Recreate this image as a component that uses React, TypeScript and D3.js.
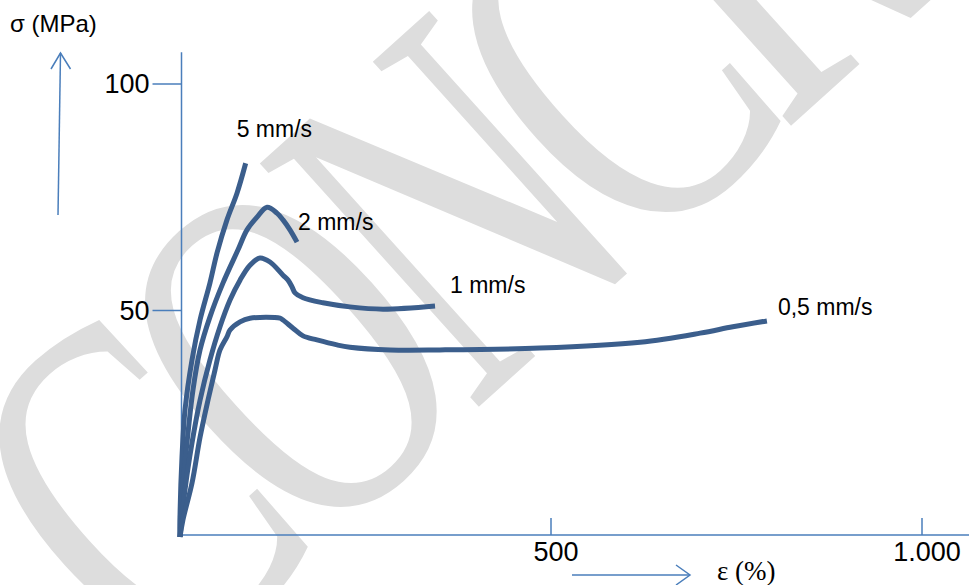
import React from 'react';
import * as d3 from 'd3';

const W = 969;
const H = 585;

// Series (strain ε in %, stress σ in MPa)
const seriesNames = ['5 mm/s', '2 mm/s', '1 mm/s', '0,5 mm/s'];

const strain5 = [0, 0, 2.7, 6.7, 16.2, 27, 40.4, 49.9, 63.3, 76.8, 88.5];
const stress5 = [0, 4.4, 17.7, 28, 39.1, 47.9, 56.1, 62.7, 70, 75.9, 82.5];

const strain2 = [0, 1.5, 4, 10.8, 17.5, 27, 40.4, 58, 78.2, 90.3, 103.8, 117.3, 130.7, 138.8, 148.2, 157.7];
const stress2 = [0, 8, 11.9, 23, 32.5, 41.3, 48.6, 56.1, 63.4, 67.8, 70.6, 72.8, 71.5, 70, 67.8, 65.1];

const strain1 = [0, 6.7, 16.2, 27, 40.4, 53.9, 67.4, 80.9, 94.3, 107.8, 121.3, 138.8, 145.6, 151, 155, 165.8, 192.7, 229, 273.6, 343.7];
const stress1 = [0, 10.4, 20.8, 30.2, 39.1, 46.4, 52.3, 56.7, 60.0, 61.6, 60.7, 57.8, 56.7, 55.2, 53.9, 52.8, 51.7, 50.8, 50.3, 51.0];

const strain05 = [0, 4, 16.2, 27, 37.7, 47.2, 53.9, 63.3, 67.4, 80.9, 94.3, 134.8, 138.8, 152.3, 165.8, 184.6, 211.6, 229, 283, 350, 485, 620, 701, 745, 791];
const stress05 = [0, 3.8, 11.9, 22, 30.2, 36.9, 41.3, 44.2, 45.7, 47.5, 48.3, 48.3, 47.9, 46.1, 44.4, 43.5, 42.4, 41.9, 41.3, 41.3, 41.7, 43.0, 45.0, 46.4, 47.7];

const strains = [strain5, strain2, strain1, strain05];
const stresses = [stress5, stress2, stress1, stress05];

const xTicks = [500, 1000];
const xTickLabels = ['500', '1.000'];
const yTicks = [50, 100];
const yTickLabels = ['50', '100'];

const yAxisTitle = 'σ (MPa)';
const xAxisTitle = 'ε (%)';
const watermark = 'CONCRETE';

// label offsets relative to curve end (px)
const labelOffsets: [number, number][] = [[-9, -26], [1, -12], [15, -13], [11, -6]];

const AXIS = '#4a7ebb';
const CURVE = '#3b5e8c';
const SANS = '"Liberation Sans", Arial, sans-serif';
const SERIF = '"Liberation Serif", "Times New Roman", serif';

export default function App() {
  const x = d3.scaleLinear().domain([0, 1000]).range([180, 922]);
  const y = d3.scaleLinear().domain([0, 100]).range([537, 84]);

  const line = d3
    .line<[number, number]>()
    .x((d) => x(d[0]))
    .y((d) => y(d[1]))
    .curve(d3.curveCatmullRom.alpha(0.5));

  const axX = x(0) + 1.5;
  const axY = y(0) - 2;

  const series = seriesNames.map((name, i) => {
    const pts: [number, number][] = strains[i].map((e, j) => [e, stresses[i][j]]);
    return { name, pts };
  });

  return (
    <svg
      width={W}
      height={H}
      style={{ position: 'fixed', left: 0, top: 0, background: '#fff' }}
    >
      <defs>
        <clipPath id="clipAll">
          <rect x={0} y={0} width={W} height={H} />
        </clipPath>
      </defs>
      <rect x={0} y={0} width={W} height={H} fill="#fff" />
      {/* watermark */}
      <g clipPath="url(#clipAll)">
        <text
          transform="translate(161,693) rotate(-42) scale(0.68,1)"
          fontFamily={SERIF}
          fontSize={500}
          letterSpacing={-40}
          fill="#dddddd"
        >
          {watermark}
        </text>
      </g>

      {/* y axis */}
      <line x1={axX} x2={axX} y1={y(107)} y2={axY} stroke={AXIS} strokeWidth={1.5} />
      {yTicks.map((t, i) => (
        <g key={'yt' + i}>
          <line x1={axX - 29} x2={axX} y1={y(t)} y2={y(t)} stroke={AXIS} strokeWidth={1.5} />
          <text
            x={axX - 32}
            y={y(t) + 9}
            textAnchor="end"
            fontFamily={SANS}
            fontSize={27}
            fill="#000"
          >
            {yTickLabels[i]}
          </text>
        </g>
      ))}

      {/* x axis */}
      <line x1={axX} x2={W} y1={axY} y2={axY} stroke={AXIS} strokeWidth={1.5} />
      {xTicks.map((t, i) => (
        <g key={'xt' + i}>
          <line x1={x(t)} x2={x(t)} y1={axY - 17} y2={axY} stroke={AXIS} strokeWidth={1.5} />
          <text
            x={x(t) + 5}
            y={axY + 26}
            textAnchor="middle"
            fontFamily={SANS}
            fontSize={27}
            fill="#000"
          >
            {xTickLabels[i]}
          </text>
        </g>
      ))}

      {/* axis titles & arrows */}
      <text x={10} y={32} fontFamily={SANS} fontSize={24} fill="#000">
        {yAxisTitle}
      </text>
      <line x1={58} y1={215} x2={60.5} y2={53} stroke={AXIS} strokeWidth={1.5} />
      <polyline points="51,69 60.5,53 70.5,69" fill="none" stroke={AXIS} strokeWidth={1.5} />

      <line x1={572} y1={575} x2={690} y2={575} stroke={AXIS} strokeWidth={1.5} />
      <polyline points="676,565 690,575 676,585" fill="none" stroke={AXIS} strokeWidth={1.5} />
      <text x={717} y={580} fontFamily={SERIF} fontSize={27} fill="#000">
        {xAxisTitle}
      </text>

      {/* curves */}
      {series.map((s) => (
        <path
          key={s.name}
          d={line(s.pts) || ''}
          fill="none"
          stroke={CURVE}
          strokeWidth={5}
          strokeLinejoin="round"
        />
      ))}
      {series.map((s, i) => {
        const last = s.pts[s.pts.length - 1];
        return (
          <text
            key={'l' + s.name}
            x={x(last[0]) + labelOffsets[i][0]}
            y={y(last[1]) + labelOffsets[i][1]}
            fontFamily={SANS}
            fontSize={23}
            fill="#000"
          >
            {s.name}
          </text>
        );
      })}
    </svg>
  );
}
